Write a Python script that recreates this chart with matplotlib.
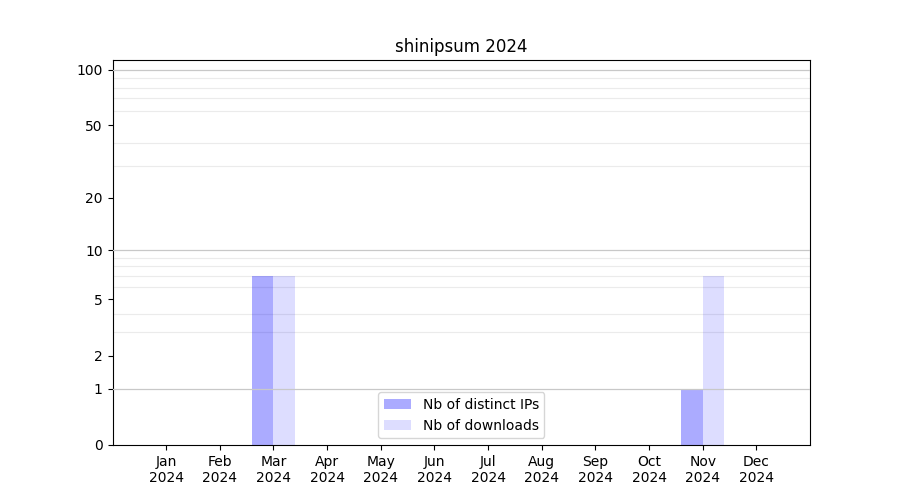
import numpy as np
import matplotlib
matplotlib.use("Agg")
import matplotlib.pyplot as plt


months = ["Jan", "Feb", "Mar", "Apr", "May", "Jun",
          "Jul", "Aug", "Sep", "Oct", "Nov", "Dec"]
year = "2024"
distinct_ips = [0, 0, 7, 0, 0, 0, 0, 0, 0, 0, 1, 0]
downloads = [0, 0, 7, 0, 0, 0, 0, 0, 0, 0, 7, 0]

major_ticks = [0, 1, 2, 5, 10, 20, 50, 100]
minor_ticks = [2, 3, 4, 5, 6, 7, 8, 9, 20, 30, 40, 50, 60, 70, 80, 90]
decades = [1, 10, 100]


fig, ax = plt.subplots(figsize=(9, 5), dpi=100)

# log(1 + x) scale so that zero can be shown
ax.set_yscale("function", functions=(np.log1p, np.expm1))

x = np.arange(len(months))
width = 0.4
ax.bar(x - width / 2, distinct_ips, width, color="blue", alpha=0.33,
       label="Nb of distinct IPs", zorder=2)
ax.bar(x + width / 2, downloads, width, color="blue", alpha=0.135,
       label="Nb of downloads", zorder=2)

ax.set_yticks(major_ticks)
ax.set_yticklabels([str(t) for t in major_ticks])
ax.set_yticks(minor_ticks, minor=True)
ax.tick_params(axis="y", which="minor", length=0)
ax.grid(which="minor", axis="y", color="#ebebeb", linewidth=0.8, zorder=1)
for d in decades:
    ax.axhline(d, color="#c8c8c8", linewidth=0.9, zorder=3)

ax.set_ylim(0, 113)
ax.set_xlim(-1, 12)
ax.set_xticks(x)
ax.set_xticklabels([f"{m}\n{year}" for m in months])

ax.set_title("shinipsum 2024")
ax.legend(loc="lower center")

plt.savefig("out.png")
